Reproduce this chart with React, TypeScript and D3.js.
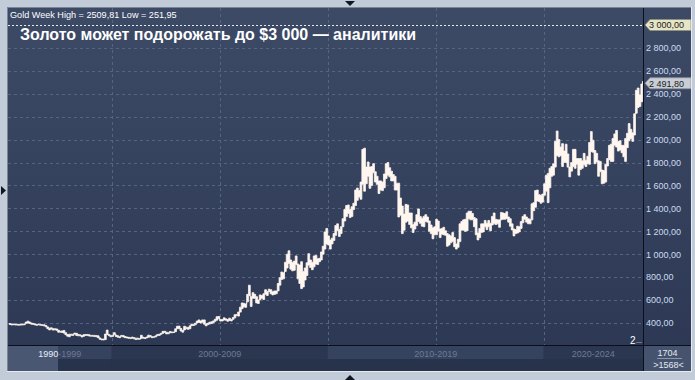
import React from 'react';
import * as d3 from 'd3';

const W = 695;
const H = 380;

// Weekly-high gold series, summarised per month (max / min of the weekly highs), starting April 1995
const startYear = 1995.25;
const monthlyHigh = [
  395, 392, 391, 390, 389, 388, 390, 390, 392,
  408, 416, 408, 400, 396, 392, 388, 390, 388, 385, 385, 378,
  366, 355, 358, 350, 350, 348, 337, 328, 331, 335, 316, 300,
  302, 302, 302, 312, 310, 300, 297, 290, 298, 300, 300, 298,
  292, 292, 292, 290, 288, 270, 260, 260, 303, 338, 300, 292,
  292, 316, 295, 288, 280, 292, 290, 282, 278, 275, 272, 277,
  272, 268, 268, 264, 293, 276, 272, 278, 294, 290, 280, 281,
  288, 300, 302, 310, 327, 328, 320, 315, 326, 322, 322, 349,
  372, 373, 352, 335, 372, 364, 360, 375, 390, 390, 398, 417,
  427, 418, 427, 427, 394, 398, 407, 410, 418, 432, 455, 457,
  430, 430, 445, 436, 430, 442, 430, 448, 473, 475, 496, 538,
  575, 572, 566, 650, 730, 630, 665, 650, 630, 600, 645, 640,
  655, 690, 675, 695, 690, 672, 680, 680, 745, 795, 845, 838,
  930, 1000, 1030, 950, 930, 940, 985, 915, 905, 935, 850, 880,
  925, 1005, 950, 930, 985, 990, 960, 965, 1020, 1070, 1195, 1225,
  1160, 1125, 1140, 1180, 1250, 1265, 1215, 1240, 1310, 1390, 1425, 1430,
  1390, 1415, 1445, 1560, 1577, 1555, 1630, 1915, 1925, 1760, 1805, 1760,
  1765, 1790, 1720, 1680, 1640, 1640, 1630, 1700, 1790, 1800, 1755, 1725,
  1695, 1680, 1620, 1620, 1490, 1420, 1350, 1435, 1430, 1360, 1360, 1260,
  1280, 1345, 1395, 1330, 1315, 1330, 1345, 1325, 1290, 1255, 1230, 1240,
  1305, 1290, 1220, 1225, 1235, 1205, 1180, 1170, 1160, 1190, 1145, 1090,
  1130, 1265, 1285, 1300, 1305, 1360, 1375, 1375, 1355, 1320, 1310, 1185,
  1225, 1265, 1265, 1295, 1270, 1295, 1270, 1330, 1360, 1305, 1300, 1300,
  1365, 1360, 1355, 1370, 1325, 1310, 1265, 1220, 1215, 1245, 1240, 1285,
  1330, 1345, 1325, 1310, 1305, 1440, 1450, 1555, 1560, 1520, 1515, 1525,
  1615, 1690, 1705, 1750, 1765, 1790, 1985, 2075, 2000, 1935, 1965, 1900,
  1960, 1875, 1760, 1800, 1915, 1915, 1835, 1835, 1835, 1815, 1880, 1820,
  1855, 1975, 2070, 1995, 1905, 1880, 1815, 1810, 1735, 1730, 1785, 1835,
  1950, 1960, 2010, 2050, 2080, 1985, 1990, 1950, 1950, 2010, 2055, 2140,
  2090, 2060, 2225, 2430, 2450, 2390, 2485, 2510,
];
const monthlyLow = [
  388, 383, 385, 383, 382, 381, 382, 383, 385,
  398, 400, 396, 390, 388, 383, 380, 385, 380, 379, 375, 367,
  350, 340, 347, 338, 341, 336, 320, 320, 318, 312, 298, 285,
  280, 293, 292, 303, 292, 288, 289, 278, 284, 292, 290, 287,
  285, 285, 282, 280, 272, 258, 253, 252, 255, 300, 290, 280,
  283, 298, 282, 276, 272, 284, 278, 272, 270, 266, 264, 268,
  262, 256, 258, 258, 266, 268, 264, 270, 276, 280, 272, 275,
  279, 290, 292, 302, 310, 318, 305, 306, 315, 315, 317, 324,
  350, 350, 330, 320, 340, 350, 345, 350, 377, 378, 384, 400,
  405, 400, 406, 390, 375, 386, 392, 395, 402, 415, 425, 440,
  418, 418, 426, 425, 415, 422, 418, 432, 445, 465, 460, 495,
  525, 540, 537, 585, 640, 545, 615, 615, 575, 570, 605, 617,
  605, 650, 640, 675, 655, 645, 650, 655, 680, 730, 780, 785,
  850, 880, 920, 870, 855, 860, 910, 785, 745, 700, 715, 775,
  815, 905, 885, 865, 890, 915, 910, 935, 950, 1000, 1045, 1090,
  1080, 1045, 1090, 1120, 1165, 1205, 1155, 1180, 1240, 1290, 1330, 1355,
  1320, 1330, 1390, 1425, 1470, 1500, 1480, 1610, 1550, 1615, 1680, 1575,
  1600, 1710, 1630, 1610, 1530, 1560, 1555, 1580, 1660, 1690, 1675, 1640,
  1640, 1560, 1560, 1325, 1340, 1180, 1210, 1280, 1290, 1260, 1230, 1190,
  1220, 1250, 1285, 1270, 1245, 1240, 1285, 1280, 1200, 1180, 1135, 1170,
  1170, 1200, 1145, 1175, 1170, 1165, 1070, 1080, 1100, 1110, 1065, 1045,
  1060, 1110, 1210, 1210, 1200, 1205, 1310, 1300, 1300, 1240, 1170, 1125,
  1145, 1190, 1195, 1240, 1215, 1240, 1205, 1255, 1265, 1260, 1265, 1235,
  1300, 1305, 1305, 1310, 1280, 1245, 1212, 1160, 1180, 1185, 1195, 1225,
  1275, 1305, 1280, 1266, 1265, 1300, 1380, 1410, 1465, 1460, 1445, 1455,
  1515, 1550, 1450, 1580, 1680, 1690, 1760, 1860, 1850, 1860, 1765, 1800,
  1800, 1760, 1675, 1725, 1765, 1750, 1785, 1690, 1740, 1750, 1780, 1765,
  1790, 1785, 1895, 1890, 1790, 1805, 1680, 1720, 1615, 1620, 1630, 1770,
  1825, 1810, 1810, 1950, 1935, 1900, 1910, 1885, 1850, 1810, 1930, 1990,
  2010, 1985, 2040, 2230, 2280, 2290, 2330, 2400,
];

const yTicks = [400, 600, 800, 1000, 1200, 1400, 1600, 1800, 2000, 2200, 2400, 2600, 2800];
const targetLevel = 3000;
const lastPrice = 2491.8;
const weekHigh = 2509.81;
const weekLow = 251.95;
const gridYears = [2000, 2005, 2010, 2015, 2020];
const periodLabels = ['1990-1999', '2000-2009', '2010-2019', '2020-2024'];
const periodStarts = [1995.2, 2000, 2010, 2020];
const periodEnds = [2000, 2010, 2020, 2024.6];
const titleText = 'Золото может подорожать до $3 000 — аналитики';
const barCount = '1704';
const visibleCount = '>1568<';

const FONT = "'Liberation Sans', Arial, sans-serif";

const locale = d3.formatLocale({ decimal: ',', thousands: '\u00a0', grouping: [3], currency: ['', ''] });
const fmtAxis = locale.format(',.2f');
const fmtPlain = locale.format('.2f');

export default function App() {
  const left = 8;
  const plotRight = 643;
  const top = 8;
  const plotBottom = 345;
  const outerRight = 691;
  const outerBottom = 371;

  const x = d3.scaleLinear().domain([1995.2, 2024.6]).range([left, plotRight]);
  const y = d3.scaleLinear().domain([400, 3000]).range([323, 25]);

  const data = monthlyHigh.map((h, i) => ({ t: startYear + i / 12, h, l: monthlyLow[i] }));
  const area = d3
    .area<{ t: number; h: number; l: number }>()
    .x((d) => x(d.t))
    .y0((d) => y(d.l))
    .y1((d) => y(d.h))
    .curve(d3.curveStepAfter);

  const pricePath = (cy: number) => {
    const x0 = 645;
    const x1 = 691;
    return `M${x0},${cy} L${x0 + 5},${cy - 5.5} L${x1},${cy - 5.5} L${x1},${cy + 5.5} L${x0 + 5},${cy + 5.5} Z`;
  };

  const yTarget = y(targetLevel);
  const yLast = y(lastPrice);
  const bandTop = plotBottom + 1;
  const bandMid = 359;

  return (
    <svg
      width={W}
      height={H}
      style={{ position: 'absolute', left: 0, top: 0, display: 'block' }}
      fontFamily={FONT}
    >
      <defs>
        <linearGradient id="bg" x1="0" y1="0" x2="0" y2="1">
          <stop offset="0" stopColor="#3d4a66" />
          <stop offset="1" stopColor="#2c3853" />
        </linearGradient>
        <clipPath id="plotClip">
          <rect x={left} y={top} width={plotRight - left} height={plotBottom - top} />
        </clipPath>
      </defs>
      <rect x={0} y={0} width={W} height={H} fill="#c2ccd9" />
      <rect x={left} y={top} width={outerRight - left} height={outerBottom - top} fill="url(#bg)" />

      {/* horizontal grid */}
      {yTicks.map((v) => (
        <line
          key={v}
          x1={left}
          x2={plotRight}
          y1={Math.round(y(v)) + 0.5}
          y2={Math.round(y(v)) + 0.5}
          stroke="#56647f"
          strokeDasharray="3,3"
        />
      ))}
      {/* vertical grid */}
      {gridYears.map((g) => (
        <line
          key={g}
          x1={Math.round(x(g)) + 0.5}
          x2={Math.round(x(g)) + 0.5}
          y1={top}
          y2={plotBottom}
          stroke="#56647f"
          strokeDasharray="3,3"
        />
      ))}
      {/* target level */}
      <line
        x1={left}
        x2={plotRight}
        y1={Math.round(yTarget) + 0.5}
        y2={Math.round(yTarget) + 0.5}
        stroke="#e6ebf2"
        strokeDasharray="2,2"
      />

      {/* price series */}
      <g clipPath="url(#plotClip)">
        <path d={area(data) || ''} fill="#fff6f0" stroke="#fff6f0" strokeWidth={0.8} />
      </g>

      {/* header texts */}
      <text x={10} y={17.5} fontSize={9.1} fill="#ffffff">
        {`Gold Week High = ${fmtPlain(weekHigh)} Low = ${fmtPlain(weekLow)}`}
      </text>
      <text x={20} y={40} fontSize={16} fontWeight="bold" fill="#ffffff">
        {titleText}
      </text>

      {/* separators */}
      <line x1={plotRight + 0.5} x2={plotRight + 0.5} y1={top} y2={outerBottom} stroke="#0a0f1a" />
      <line x1={left} x2={outerRight} y1={plotBottom + 0.5} y2={plotBottom + 0.5} stroke="#0a0f1a" />

      {/* y axis labels */}
      {yTicks.map((v) => (
        <text key={v} x={646} y={y(v) + 3.3} fontSize={9} fill="#cddcf2">
          {fmtAxis(v)}
        </text>
      ))}
      <path d={pricePath(yTarget)} fill="#e6e6c6" stroke="#8e8e78" strokeWidth={0.8} />
      <text x={649} y={yTarget + 3.3} fontSize={9} fill="#1a1a1a">
        {fmtAxis(targetLevel)}
      </text>
      <path d={pricePath(yLast)} fill="#c9ced6" stroke="#8a909a" strokeWidth={0.8} />
      <text x={649} y={yLast + 3.3} fontSize={9} fill="#1a1a1a">
        {fmtAxis(lastPrice)}
      </text>

      {/* marker "2" */}
      <text x={630} y={343.5} fontSize={10} fill="#ffffff">2</text>
      <line x1={636} x2={642} y1={342.5} y2={342.5} stroke="#6d7890" />

      {/* bottom period strip */}
      {periodLabels.map((lab, i) => {
        const x0 = x(periodStarts[i]);
        const x1 = x(periodEnds[i]);
        return (
          <g key={lab}>
            <rect x={x0} y={bandTop} width={x1 - x0} height={bandMid - bandTop} fill={i % 2 === 0 ? '#36435f' : '#2b3651'} />
            <rect x={x0} y={bandMid} width={x1 - x0} height={outerBottom - bandMid} fill="#27324b" />
          </g>
        );
      })}
      <rect x={left} y={bandTop} width={50} height={outerBottom - bandTop} fill="#4a5773" />
      {periodLabels.map((lab, i) => {
        const cx = (x(periodStarts[i]) + x(periodEnds[i])) / 2;
        if (i === 0) {
          const [a, b] = lab.split('-');
          return (
            <text key={lab} x={cx} y={357} fontSize={9} textAnchor="middle" fill="#6d7a94">
              <tspan fill="#e6edf7">{a}</tspan>
              {`-${b}`}
            </text>
          );
        }
        return (
          <text key={lab} x={cx} y={357} fontSize={9} textAnchor="middle" fill="#6d7a94">
            {lab}
          </text>
        );
      })}
      {/* bottom right counter */}
      <rect x={plotRight + 1} y={bandTop} width={outerRight - plotRight - 1} height={outerBottom - bandTop} fill="#45536e" />
      <text x={667.5} y={356} fontSize={9} textAnchor="middle" fill="#e3e9f2">{barCount}</text>
      <line x1={657} x2={682} y1={358.5} y2={358.5} stroke="#8a96aa" />
      <text x={668.5} y={368} fontSize={9} textAnchor="middle" fill="#e3e9f2">{visibleCount}</text>

      {/* frame */}
      <line x1={7.5} x2={7.5} y1={7} y2={outerBottom + 1} stroke="#7a8596" />
      <line x1={7} x2={outerRight + 1} y1={7.5} y2={7.5} stroke="#7a8596" />
      <line x1={outerRight + 0.5} x2={outerRight + 0.5} y1={7} y2={outerBottom + 1} stroke="#e6ebf2" />
      <line x1={7} x2={outerRight + 1} y1={outerBottom + 0.5} y2={outerBottom + 0.5} stroke="#e6ebf2" />

      {/* scroll markers */}
      <path d="M345,1 L355,1 L350,6 Z" fill="#111722" />
      <path d="M345,380 L355,380 L350,375 Z" fill="#111722" />
      <path d="M1,186 L1,195 L6,190.5 Z" fill="#111722" />
    </svg>
  );
}
